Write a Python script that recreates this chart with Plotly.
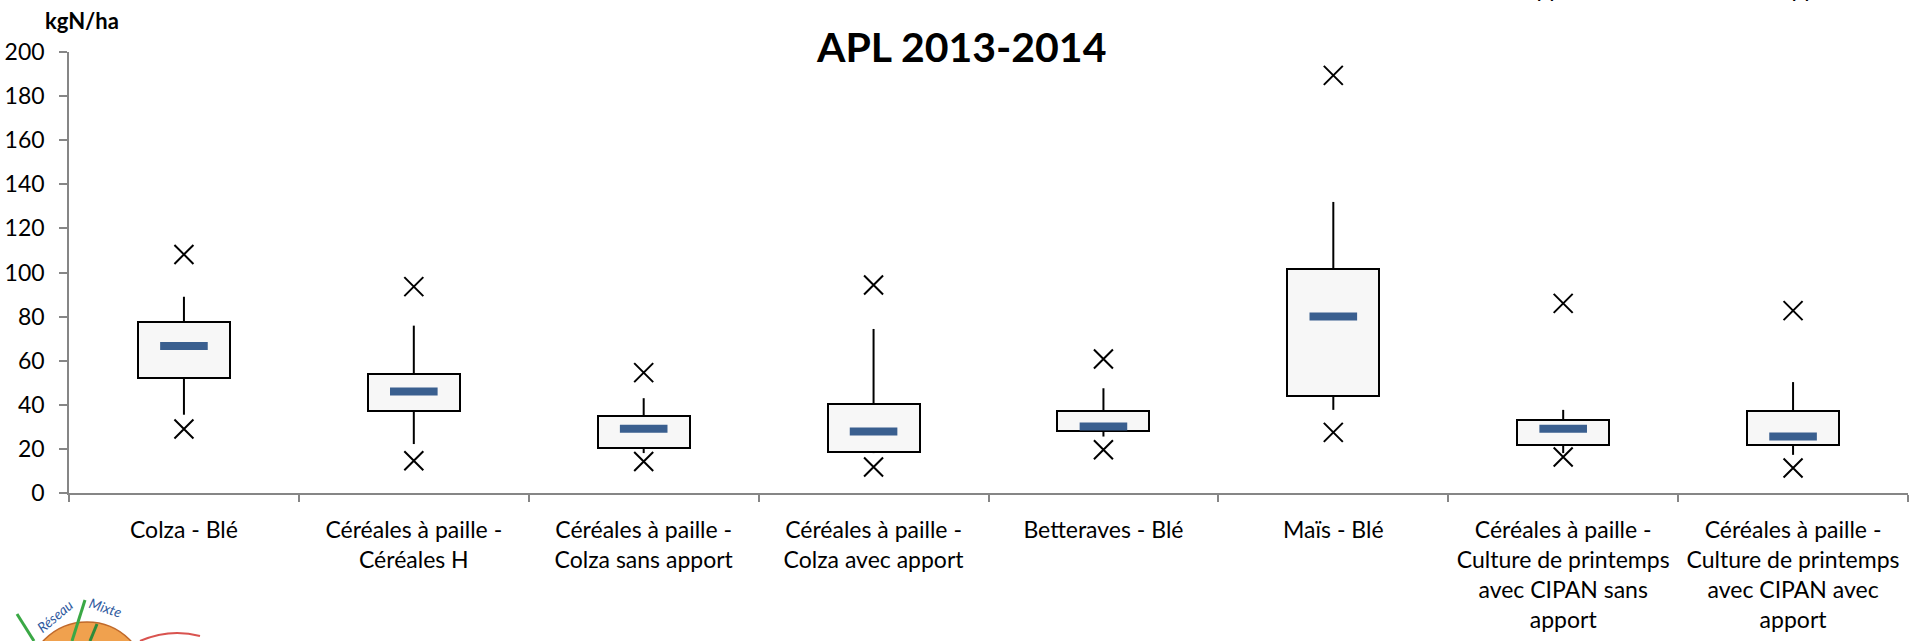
import plotly.graph_objects as go

# ---- data ----
categories = [
    "Colza - Blé",
    "Céréales à paille -<br>Céréales H",
    "Céréales à paille -<br>Colza sans apport",
    "Céréales à paille -<br>Colza avec apport",
    "Betteraves - Blé",
    "Maïs - Blé",
    "Céréales à paille -<br>Culture de printemps<br>avec CIPAN sans<br>apport",
    "Céréales à paille -<br>Culture de printemps<br>avec CIPAN avec<br>apport",
]
maxi = [108.2, 93.6, 54.6, 94.3, 60.8, 189.4, 86.0, 82.7]
whisker_hi = [89.0, 75.9, 43.0, 74.4, 47.5, 132.0, 37.7, 50.3]
q3 = [77.7, 53.9, 34.7, 40.3, 37.0, 101.4, 32.9, 37.0]
median = [66.7, 46.0, 29.1, 27.9, 30.2, 80.0, 29.1, 25.6]
q1 = [52.1, 37.4, 20.4, 18.8, 27.9, 44.2, 21.6, 21.9]
whisker_lo = [35.5, 22.2, 18.1, 18.1, 25.6, 37.7, 18.1, 17.3]
mini = [29.0, 14.6, 14.3, 11.8, 19.6, 27.5, 16.3, 11.3]
y_ticks = list(range(0, 201, 20))

FONT = "Lato"
W, H = 1915, 641
ML, MR, MT, MB = 69, 7, 52, 148
PW, PH = W - ML - MR, H - MT - MB


def px(xp):
    return (xp - ML) / PW


def py(yp):
    return (H - MB - yp) / PH


fig = go.Figure()

# boxes (Q1 -> Q3)
fig.add_trace(go.Bar(
    x=categories,
    y=[b - a for a, b in zip(q1, q3)],
    base=q1,
    width=0.4,
    marker=dict(color="#f7f7f7", line=dict(color="#000000", width=2)),
    hoverinfo="skip",
))

# whiskers
wx, wy = [], []
for c, a, b, lo, hi in zip(categories, q1, q3, whisker_lo, whisker_hi):
    wx += [c, c, None, c, c, None]
    wy += [b, hi, None, a, lo, None]
fig.add_trace(go.Scatter(x=wx, y=wy, mode="lines",
                         line=dict(color="#000000", width=2), hoverinfo="skip"))

# medians
fig.add_trace(go.Scatter(
    x=categories, y=median, mode="markers",
    marker=dict(symbol="line-ew", size=34,
                line=dict(width=8, color="#3a5f8f")),
))

# min / max crosses
fig.add_trace(go.Scatter(
    x=categories + categories, y=maxi + mini, mode="markers",
    marker=dict(symbol="x-thin", size=19, color="#000000",
                line=dict(width=2, color="#000000")),
))

annotations = [
    dict(text="<b>APL 2013-2014</b>", x=px(961), y=py(47), xref="paper", yref="paper",
         showarrow=False, xanchor="center", yanchor="middle",
         font=dict(family=FONT, size=41, color="#000000")),
    dict(text="<b>kgN/ha</b>", x=px(82), y=py(20), xref="paper", yref="paper",
         showarrow=False, xanchor="center", yanchor="middle",
         font=dict(family=FONT, size=22, color="#000000")),
    # cut-off texts at very top right
    dict(text="apport", x=px(1559), y=py(-12), xref="paper", yref="paper",
         showarrow=False, xanchor="center", yanchor="middle",
         font=dict(family=FONT, size=23, color="#000000")),
    dict(text="apport", x=px(1814), y=py(-12), xref="paper", yref="paper",
         showarrow=False, xanchor="center", yanchor="middle",
         font=dict(family=FONT, size=23, color="#000000")),
    # logo text
    dict(text="<i>Réseau</i>", x=px(54), y=py(616), xref="paper", yref="paper",
         showarrow=False, textangle=-40, xanchor="center", yanchor="middle",
         font=dict(family=FONT, size=14, color="#2f5a9e")),
    dict(text="<i>Mixte</i>", x=px(106), y=py(607), xref="paper", yref="paper",
         showarrow=False, textangle=18, xanchor="center", yanchor="middle",
         font=dict(family=FONT, size=14, color="#2f5a9e")),
]

shapes = [
    dict(type="circle", xref="paper", yref="paper",
         x0=px(27), x1=px(147), y0=py(742), y1=py(622),
         fillcolor="#f0a14e", line=dict(color="#c0692a", width=1.5), layer="above"),
    dict(type="line", xref="paper", yref="paper", x0=px(17), y0=py(614), x1=px(34), y1=py(641),
         line=dict(color="#3aa845", width=3), layer="above"),
    dict(type="line", xref="paper", yref="paper", x0=px(85), y0=py(600), x1=px(72), y1=py(641),
         line=dict(color="#3aa845", width=3), layer="above"),
    dict(type="line", xref="paper", yref="paper", x0=px(97), y0=py(624), x1=px(90), y1=py(641),
         line=dict(color="#2e8b3a", width=3), layer="above"),
    dict(type="path", xref="paper", yref="paper",
         path=f"M {px(140)},{py(641)} Q {px(170)},{py(628)} {px(200)},{py(636)}",
         line=dict(color="#d9534f", width=2), layer="above"),
]

fig.update_layout(
    width=W, height=H,
    margin=dict(l=ML, r=MR, t=MT, b=MB, pad=0),
    paper_bgcolor="#ffffff", plot_bgcolor="#ffffff",
    showlegend=False,
    bargap=0,
    font=dict(family=FONT, size=22, color="#000000"),
    annotations=annotations,
    shapes=shapes,
    xaxis=dict(
        type="category", range=[-0.5, 7.5], tickson="boundaries",
        ticks="outside", ticklen=7, tickwidth=1.5, tickcolor="#868686",
        showline=True, linecolor="#868686", linewidth=1.5,
        showgrid=False, zeroline=False, fixedrange=True, automargin=False,
        ticklabelstandoff=16,
        tickfont=dict(family=FONT, size=23, color="#000000"),
    ),
    yaxis=dict(
        range=[0, 200], tickvals=y_ticks,
        ticks="outside", ticklen=8, tickwidth=1.5, tickcolor="#868686",
        showline=True, linecolor="#868686", linewidth=1.5, automargin=False,
        showgrid=False, zeroline=False, ticklabelstandoff=10, fixedrange=True,
        tickfont=dict(family=FONT, size=23, color="#000000"),
    ),
)

fig.write_html("out.html", config={"displayModeBar": False},
               post_script="document.body.style.margin='0';")
